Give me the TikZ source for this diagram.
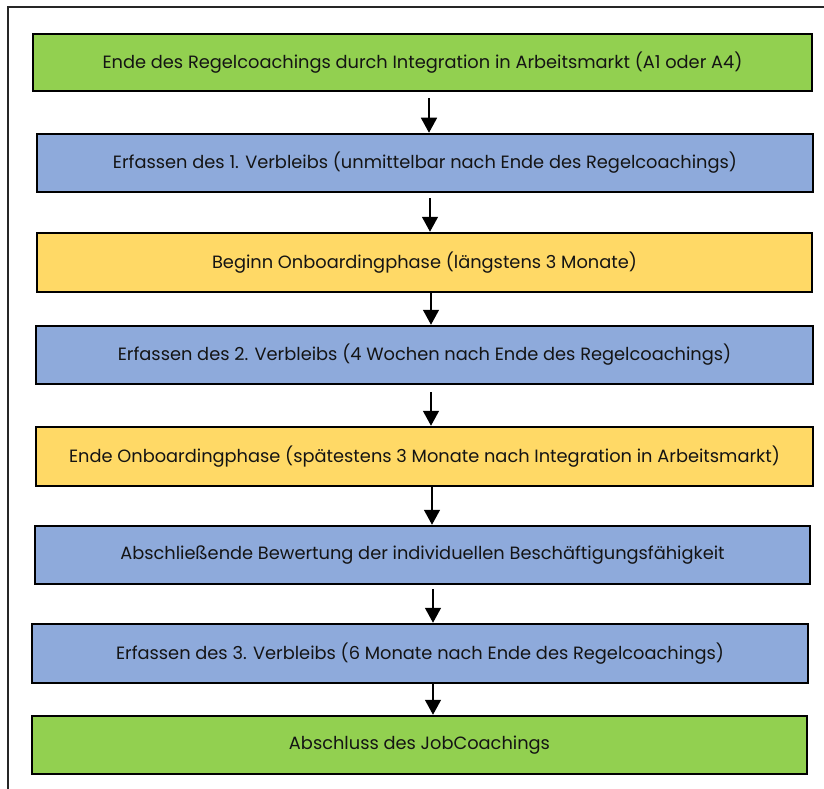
\documentclass[tikz,border=0pt]{standalone}
\usepackage{fontspec}
\setmainfont{Poppins}
\usetikzlibrary{arrows.meta}
\definecolor{boxgreen}{HTML}{92D050}
\definecolor{boxblue}{HTML}{8EAADB}
\definecolor{boxyellow}{HTML}{FFD966}
\definecolor{txt}{HTML}{141414}
\tikzset{
  box/.style={draw=black, line width=2.5pt, inner sep=0pt, text=txt,
    font=\fontsize{17.8}{20}\selectfont},
  gbox/.style={box, fill=boxgreen},
  bbox/.style={box, fill=boxblue},
  ybox/.style={box, fill=boxyellow},
  arr/.style={line width=1.5pt, -{Triangle[width=16pt,length=15pt]}},
  frame/.style={line width=2pt, draw=black!85}
}
\begin{document}
\begin{tikzpicture}[x=1pt,y=-1pt]
\useasboundingbox (0,0) rectangle (824,789);
\coordinate (ftl) at (8,7.5);
\coordinate (ftr) at (824,7.5);
\coordinate (fbl) at (8,789);
\draw[frame] (ftr) -- (ftl) -- (fbl);
\node[gbox, minimum width=779pt, minimum height=57pt] (b1) at (422.5,62.5) {Ende des Regelcoachings durch Integration in Arbeitsmarkt (A1 oder A4)};
\node[bbox, minimum width=776pt, minimum height=58pt] (b2) at (425,163) {Erfassen des 1. Verbleibs (unmittelbar nach Ende des Regelcoachings)};
\node[ybox, minimum width=775pt, minimum height=59pt] (b3) at (424.5,262.5) {Beginn Onboardingphase (längstens 3 Monate)};
\node[bbox, minimum width=777pt, minimum height=58pt] (b4) at (424.5,355) {Erfassen des 2. Verbleibs (4 Wochen nach Ende des Regelcoachings)};
\node[ybox, minimum width=777pt, minimum height=59pt] (b5) at (424.5,456.5) {Ende Onboardingphase (spätestens 3 Monate nach Integration in Arbeitsmarkt)};
\node[bbox, minimum width=775pt, minimum height=58pt] (b6) at (422.5,555) {Abschließende Bewertung der individuellen Beschäftigungsfähigkeit};
\node[bbox, minimum width=776pt, minimum height=59pt] (b7) at (420,653.5) {Erfassen des 3. Verbleibs (6 Monate nach Ende des Regelcoachings)};
\node[gbox, minimum width=775pt, minimum height=58pt] (b8) at (419.5,745) {Abschluss des JobCoachings};
\coordinate (a1) at (429,98);
\coordinate (a2) at (430,198);
\coordinate (a3) at (431,292);
\coordinate (a4) at (431,392);
\coordinate (a5) at (432,486);
\coordinate (a6) at (433,589);
\coordinate (a7) at (433,683);
\draw[arr] (a1) -- (a1 |- b2.north);
\draw[arr] (a2) -- (a2 |- b3.north);
\draw[arr] (a3) -- (a3 |- b4.north);
\draw[arr] (a4) -- (a4 |- b5.north);
\draw[arr] (a5) -- (a5 |- b6.north);
\draw[arr] (a6) -- (a6 |- b7.north);
\draw[arr] (a7) -- (a7 |- b8.north);
\end{tikzpicture}
\end{document}
